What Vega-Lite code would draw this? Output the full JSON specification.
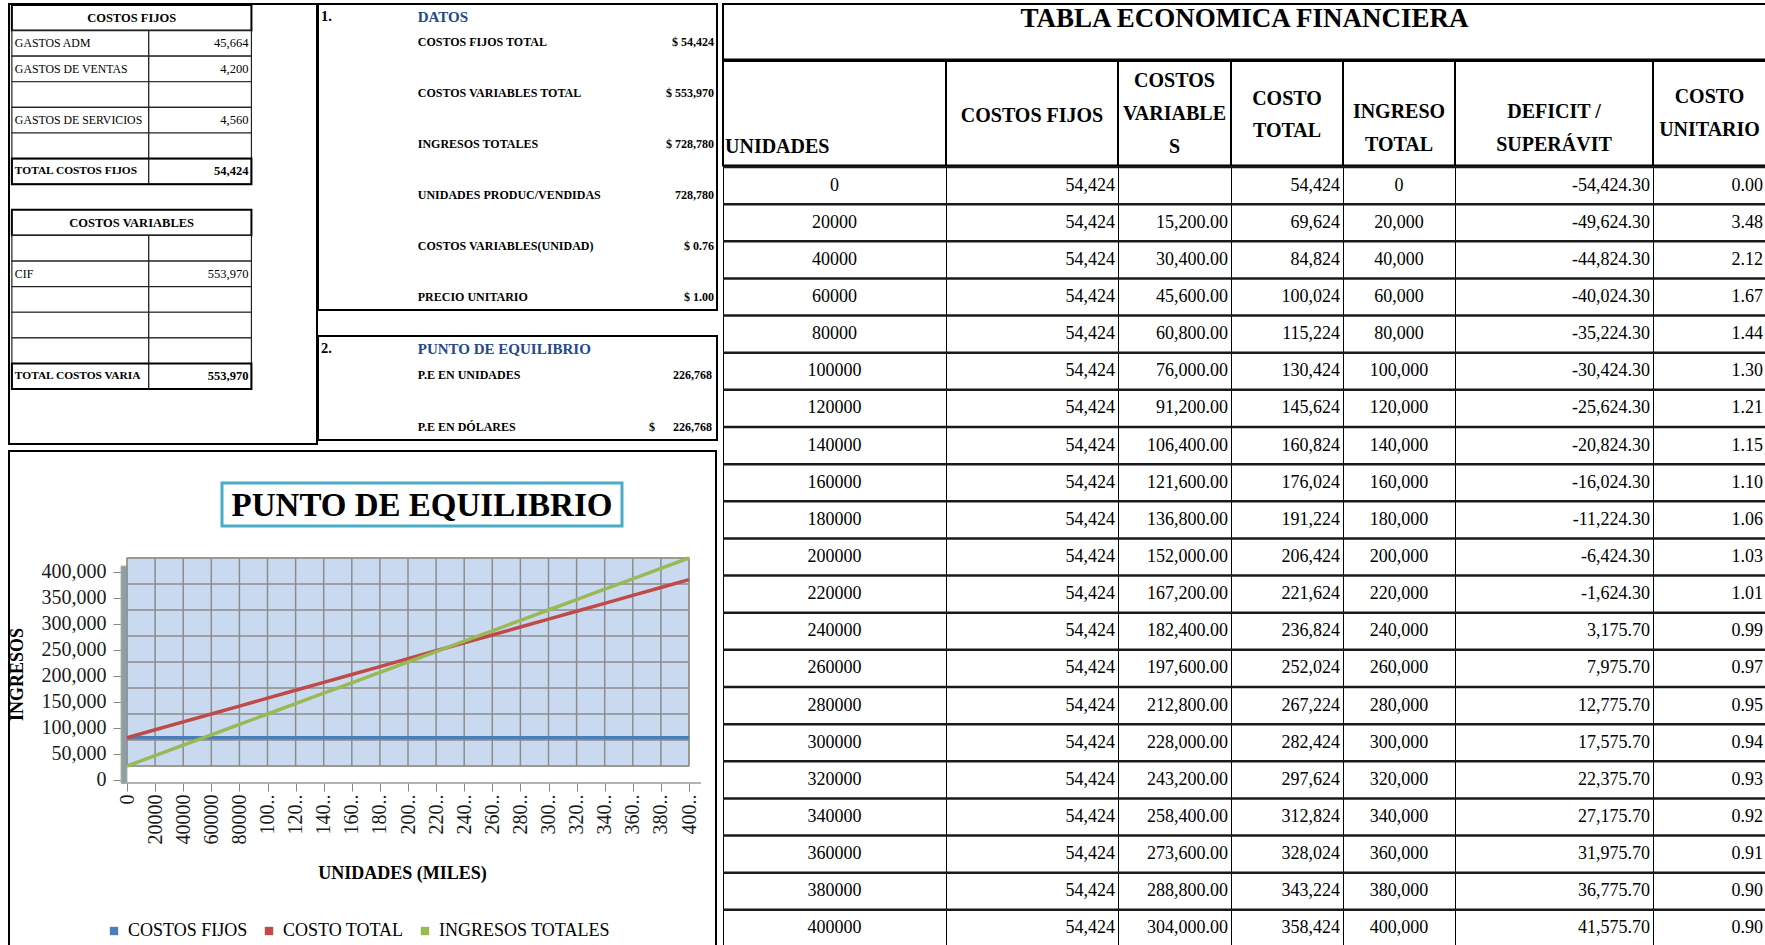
{
  "$schema": "https://vega.github.io/schema/vega-lite/v6.json",
  "background": "white",
  "padding": {"left": 7, "top": 2, "right": 0, "bottom": 0},
  "spacing": 3,
  "config": {
    "font": "Liberation Serif",
    "locale": {"number": {"decimal": ".", "thousands": ",", "grouping": [3], "currency": ["$", ""], "minus": "-"}},
    "view": {"stroke": null},
    "axisX": {"labelOverlap": false}
  },
  "datasets": {
    "tabla": [
      {"u": 0, "cf": 54424.3, "cv": null, "ct": 54424.3, "it": 0, "ds": -54424.3, "cu": 0},
      {"u": 20000, "cf": 54424.3, "cv": 15200, "ct": 69624.3, "it": 20000, "ds": -49624.3, "cu": 3.48},
      {"u": 40000, "cf": 54424.3, "cv": 30400, "ct": 84824.3, "it": 40000, "ds": -44824.3, "cu": 2.12},
      {"u": 60000, "cf": 54424.3, "cv": 45600, "ct": 100024.3, "it": 60000, "ds": -40024.3, "cu": 1.67},
      {"u": 80000, "cf": 54424.3, "cv": 60800, "ct": 115224.3, "it": 80000, "ds": -35224.3, "cu": 1.44},
      {"u": 100000, "cf": 54424.3, "cv": 76000, "ct": 130424.3, "it": 100000, "ds": -30424.3, "cu": 1.30},
      {"u": 120000, "cf": 54424.3, "cv": 91200, "ct": 145624.3, "it": 120000, "ds": -25624.3, "cu": 1.21},
      {"u": 140000, "cf": 54424.3, "cv": 106400, "ct": 160824.3, "it": 140000, "ds": -20824.3, "cu": 1.15},
      {"u": 160000, "cf": 54424.3, "cv": 121600, "ct": 176024.3, "it": 160000, "ds": -16024.3, "cu": 1.10},
      {"u": 180000, "cf": 54424.3, "cv": 136800, "ct": 191224.3, "it": 180000, "ds": -11224.3, "cu": 1.06},
      {"u": 200000, "cf": 54424.3, "cv": 152000, "ct": 206424.3, "it": 200000, "ds": -6424.3, "cu": 1.03},
      {"u": 220000, "cf": 54424.3, "cv": 167200, "ct": 221624.3, "it": 220000, "ds": -1624.3, "cu": 1.01},
      {"u": 240000, "cf": 54424.3, "cv": 182400, "ct": 236824.3, "it": 240000, "ds": 3175.7, "cu": 0.99},
      {"u": 260000, "cf": 54424.3, "cv": 197600, "ct": 252024.3, "it": 260000, "ds": 7975.7, "cu": 0.97},
      {"u": 280000, "cf": 54424.3, "cv": 212800, "ct": 267224.3, "it": 280000, "ds": 12775.7, "cu": 0.95},
      {"u": 300000, "cf": 54424.3, "cv": 228000, "ct": 282424.3, "it": 300000, "ds": 17575.7, "cu": 0.94},
      {"u": 320000, "cf": 54424.3, "cv": 243200, "ct": 297624.3, "it": 320000, "ds": 22375.7, "cu": 0.93},
      {"u": 340000, "cf": 54424.3, "cv": 258400, "ct": 312824.3, "it": 340000, "ds": 27175.7, "cu": 0.92},
      {"u": 360000, "cf": 54424.3, "cv": 273600, "ct": 328024.3, "it": 360000, "ds": 31975.7, "cu": 0.91},
      {"u": 380000, "cf": 54424.3, "cv": 288800, "ct": 343224.3, "it": 380000, "ds": 36775.7, "cu": 0.90},
      {"u": 400000, "cf": 54424.3, "cv": 304000, "ct": 358424.3, "it": 400000, "ds": 41575.7, "cu": 0.90}
    ],
    "costos": [
      {"fila": 1, "tipo": "titulo", "concepto": "COSTOS FIJOS", "valor": null},
      {"fila": 2, "tipo": "item", "concepto": "GASTOS ADM", "valor": 45664},
      {"fila": 3, "tipo": "item", "concepto": "GASTOS DE VENTAS", "valor": 4200},
      {"fila": 4, "tipo": "item", "concepto": "", "valor": null},
      {"fila": 5, "tipo": "item", "concepto": "GASTOS DE SERVICIOS", "valor": 4560},
      {"fila": 6, "tipo": "item", "concepto": "", "valor": null},
      {"fila": 7, "tipo": "total", "concepto": "TOTAL COSTOS FIJOS", "valor": 54424},
      {"fila": 9, "tipo": "titulo", "concepto": "COSTOS VARIABLES", "valor": null},
      {"fila": 10, "tipo": "item", "concepto": "", "valor": null},
      {"fila": 11, "tipo": "item", "concepto": "CIF", "valor": 553970},
      {"fila": 12, "tipo": "item", "concepto": "", "valor": null},
      {"fila": 13, "tipo": "item", "concepto": "", "valor": null},
      {"fila": 14, "tipo": "item", "concepto": "", "valor": null},
      {"fila": 15, "tipo": "total", "concepto": "TOTAL COSTOS VARIA", "valor": 553970}
    ],
    "datos": [
      {"caja": "datos", "fila": 1, "num": "1.", "concepto": "DATOS", "valor": null},
      {"caja": "datos", "fila": 2, "num": null, "concepto": "COSTOS FIJOS TOTAL", "valor": "$ 54,424"},
      {"caja": "datos", "fila": 4, "num": null, "concepto": "COSTOS VARIABLES TOTAL", "valor": "$ 553,970"},
      {"caja": "datos", "fila": 6, "num": null, "concepto": "INGRESOS TOTALES", "valor": "$ 728,780"},
      {"caja": "datos", "fila": 8, "num": null, "concepto": "UNIDADES PRODUC/VENDIDAS", "valor": "728,780"},
      {"caja": "datos", "fila": 10, "num": null, "concepto": "COSTOS VARIABLES(UNIDAD)", "valor": "$ 0.76"},
      {"caja": "datos", "fila": 12, "num": null, "concepto": "PRECIO UNITARIO", "valor": "$ 1.00"},
      {"caja": "pe", "fila": 14, "num": "2.", "concepto": "PUNTO DE EQUILIBRIO", "valor": null},
      {"caja": "pe", "fila": 15, "num": null, "concepto": "P.E EN UNIDADES", "valor": "226,768"},
      {"caja": "pe", "fila": 17, "num": null, "concepto": "P.E EN DÓLARES", "valor": "$\u00a0\u00a0\u00a0\u00a0\u00a0\u00a0226,768"}
    ],
    "marcas": [
      {"v": 0}, {"v": 50000}, {"v": 100000}, {"v": 150000}, {"v": 200000},
      {"v": 250000}, {"v": 300000}, {"v": 350000}, {"v": 400000}
    ]
  },
  "hconcat": [
    {
      "vconcat": [
        {
          "hconcat": [
            {
              "width": 308, "height": 440,
              "view": {"stroke": "#000", "strokeWidth": 2},
              "data": {"name": "costos"},
              "encoding": {
                "y": {"field": "fila", "type": "ordinal", "axis": null,
                  "scale": {"type": "band", "domain": [1,2,3,4,5,6,7,8,9,10,11,12,13,14,15,16,17], "paddingInner": 0, "paddingOuter": 0.09, "align": 0.2}}
              },
              "layer": [
                {
                  "transform": [{"filter": "datum.tipo == 'titulo'"}],
                  "mark": {"type": "rect", "fill": "white", "stroke": "#000", "strokeWidth": 2},
                  "encoding": {
                    "x": {"datum": "B1", "type": "nominal", "bandPosition": 0, "axis": null,
                      "scale": {"type": "band", "domain": ["B1","B2","B3","B4","C1","C2","C3"], "paddingInner": 0, "paddingOuter": 1.048, "align": 0.042}},
                    "x2": {"datum": "C3", "bandPosition": 1}
                  }
                },
                {
                  "transform": [{"filter": "datum.tipo != 'titulo'"}],
                  "mark": {"type": "rect", "fill": "white", "stroke": "#222", "strokeWidth": 1.2},
                  "encoding": {
                    "x": {"datum": "B1", "type": "nominal", "bandPosition": 0},
                    "x2": {"datum": "B4", "bandPosition": 1}
                  }
                },
                {
                  "transform": [{"filter": "datum.tipo != 'titulo'"}],
                  "mark": {"type": "rect", "fill": "white", "stroke": "#222", "strokeWidth": 1.2},
                  "encoding": {
                    "x": {"datum": "C1", "type": "nominal", "bandPosition": 0},
                    "x2": {"datum": "C3", "bandPosition": 1}
                  }
                },
                {
                  "transform": [{"filter": "datum.tipo == 'total'"}],
                  "mark": {"type": "rect", "fill": null, "stroke": "#000", "strokeWidth": 2},
                  "encoding": {
                    "x": {"datum": "B1", "type": "nominal", "bandPosition": 0},
                    "x2": {"datum": "C3", "bandPosition": 1}
                  }
                },
                {
                  "transform": [{"filter": "datum.tipo == 'titulo'"}],
                  "mark": {"type": "text", "align": "center", "fontSize": 12.5, "fontWeight": "bold", "color": "#000"},
                  "encoding": {
                    "x": {"datum": "B4", "type": "nominal", "bandPosition": 0.5},
                    "text": {"field": "concepto"}
                  }
                },
                {
                  "transform": [{"filter": "datum.tipo == 'item'"}],
                  "mark": {"type": "text", "align": "left", "dx": 3, "fontSize": 11.8, "color": "#000"},
                  "encoding": {
                    "x": {"datum": "B1", "type": "nominal", "bandPosition": 0},
                    "text": {"field": "concepto"}
                  }
                },
                {
                  "transform": [{"filter": "datum.tipo == 'total'"}],
                  "mark": {"type": "text", "align": "left", "dx": 3, "fontSize": 11.4, "fontWeight": "bold", "color": "#000"},
                  "encoding": {
                    "x": {"datum": "B1", "type": "nominal", "bandPosition": 0},
                    "text": {"field": "concepto"}
                  }
                },
                {
                  "transform": [{"filter": "datum.tipo == 'item' && isValid(datum.valor)"}],
                  "mark": {"type": "text", "align": "right", "dx": -3, "fontSize": 12.5, "color": "#000"},
                  "encoding": {
                    "x": {"datum": "C3", "type": "nominal", "bandPosition": 1},
                    "text": {"field": "valor", "type": "quantitative", "format": ","}
                  }
                },
                {
                  "transform": [{"filter": "datum.tipo == 'total' && isValid(datum.valor)"}],
                  "mark": {"type": "text", "align": "right", "dx": -3, "fontSize": 12.5, "fontWeight": "bold", "color": "#000"},
                  "encoding": {
                    "x": {"datum": "C3", "type": "nominal", "bandPosition": 1},
                    "text": {"field": "valor", "type": "quantitative", "format": ","}
                  }
                }
              ]
            },
            {
              "vconcat": [
                {
                  "width": 399, "height": 306,
                  "view": {"stroke": "#000", "strokeWidth": 2},
                  "data": {"name": "datos"},
                  "transform": [{"filter": "datum.caja == 'datos'"}],
                  "encoding": {
                    "y": {"field": "fila", "type": "ordinal", "axis": null,
                      "scale": {"type": "band", "domain": [1,2,3,4,5,6,7,8,9,10,11,12], "paddingInner": 0, "paddingOuter": 0}}
                  },
                  "layer": [
                    {
                      "transform": [{"filter": "isValid(datum.num)"}],
                      "mark": {"type": "text", "align": "left", "dx": 3, "fontSize": 14.5, "fontWeight": "bold", "color": "#000"},
                      "encoding": {
                        "x": {"datum": "num", "type": "nominal", "bandPosition": 0, "axis": null,
                          "scale": {"type": "band", "domain": ["num", "concepto"], "paddingInner": 0, "paddingOuter": 1.843, "align": 0}},
                        "text": {"field": "num"}
                      }
                    },
                    {
                      "transform": [{"filter": "isValid(datum.num)"}],
                      "mark": {"type": "text", "align": "left", "fontSize": 15, "fontWeight": "bold", "color": "#24488A"},
                      "encoding": {
                        "x": {"datum": "concepto", "type": "nominal", "bandPosition": 0},
                        "text": {"field": "concepto"}
                      }
                    },
                    {
                      "transform": [{"filter": "!isValid(datum.num)"}],
                      "mark": {"type": "text", "align": "left", "fontSize": 12, "fontWeight": "bold", "color": "#000"},
                      "encoding": {
                        "x": {"datum": "concepto", "type": "nominal", "bandPosition": 0},
                        "text": {"field": "concepto"}
                      }
                    },
                    {
                      "transform": [{"filter": "isValid(datum.valor)"}],
                      "mark": {"type": "text", "align": "right", "dx": -3, "fontSize": 12, "fontWeight": "bold", "color": "#000"},
                      "encoding": {
                        "x": {"value": "width"},
                        "text": {"field": "valor"}
                      }
                    }
                  ]
                },
                {
                  "width": 399, "height": 104,
                  "view": {"stroke": "#000", "strokeWidth": 2},
                  "data": {"name": "datos"},
                  "transform": [{"filter": "datum.caja == 'pe'"}],
                  "encoding": {
                    "y": {"field": "fila", "type": "ordinal", "axis": null,
                      "scale": {"type": "band", "domain": [14,15,16,17], "paddingInner": 0, "paddingOuter": 0}}
                  },
                  "layer": [
                    {
                      "transform": [{"filter": "isValid(datum.num)"}],
                      "mark": {"type": "text", "align": "left", "dx": 3, "fontSize": 14.5, "fontWeight": "bold", "color": "#000"},
                      "encoding": {
                        "x": {"datum": "num", "type": "nominal", "bandPosition": 0, "axis": null,
                          "scale": {"type": "band", "domain": ["num", "concepto"], "paddingInner": 0, "paddingOuter": 1.843, "align": 0}},
                        "text": {"field": "num"}
                      }
                    },
                    {
                      "transform": [{"filter": "isValid(datum.num)"}],
                      "mark": {"type": "text", "align": "left", "fontSize": 15, "fontWeight": "bold", "color": "#24488A"},
                      "encoding": {
                        "x": {"datum": "concepto", "type": "nominal", "bandPosition": 0},
                        "text": {"field": "concepto"}
                      }
                    },
                    {
                      "transform": [{"filter": "!isValid(datum.num)"}],
                      "mark": {"type": "text", "align": "left", "fontSize": 12, "fontWeight": "bold", "color": "#000"},
                      "encoding": {
                        "x": {"datum": "concepto", "type": "nominal", "bandPosition": 0},
                        "text": {"field": "concepto"}
                      }
                    },
                    {
                      "transform": [{"filter": "isValid(datum.valor)"}],
                      "mark": {"type": "text", "align": "right", "dx": -5, "fontSize": 12, "fontWeight": "bold", "color": "#000"},
                      "encoding": {
                        "x": {"value": "width"},
                        "text": {"field": "valor"}
                      }
                    }
                  ]
                }
              ],
              "spacing": 26,
              "bounds": "flush"
            }
          ],
          "spacing": -2
        },
        {
          "width": 707, "height": 495,
          "view": {"stroke": "#000", "strokeWidth": 2},
          "layer": [
            {
              "data": {"values": [{}]},
              "mark": {"type": "rect", "fill": "#C9DAF0", "stroke": "#A9C27A", "strokeWidth": 1.5},
              "encoding": {
                "x": {"datum": 0, "type": "quantitative",
                  "scale": {"domain": [-83986, 419217], "nice": false, "zero": false},
                  "axis": {"orient": "bottom", "offset": -163, "tickCount": 40,
                    "values": [0,20000,40000,60000,80000,100000,120000,140000,160000,180000,200000,220000,240000,260000,280000,300000,320000,340000,360000,380000,400000],
                    "labelAngle": -90, "labelFontSize": 20, "labelColor": "#1a1a1a",
                    "labelExpr": "datum.value >= 100000 ? slice(toString(datum.value), 0, 3) + '..' : toString(datum.value)",
                    "labelOverlap": false, "labelFlush": false, "labelPadding": 3,
                    "domain": false, "grid": false, "tickSize": 8, "tickColor": "#888",
                    "title": "UNIDADES (MILES)", "titleFontSize": 18, "titleFontWeight": "bold", "titleColor": "#000",
                    "titleX": 393, "titleY": 90, "titleBaseline": "middle", "titleAlign": "center"}},
                "x2": {"datum": 400000},
                "y": {"datum": 0, "type": "quantitative",
                  "scale": {"domain": [-346154, 605769], "nice": false, "zero": false},
                  "axis": {"orient": "left", "offset": -112, "tickCount": 20,
                    "values": [0,50000,100000,150000,200000,250000,300000,350000,400000],
                    "format": ",.0f", "labelFontSize": 20, "labelColor": "#1a1a1a", "labelPadding": 7,
                    "domain": false, "grid": false, "tickSize": 8, "tickColor": "#888", "tickOffset": 14,
                    "title": "INGRESOS", "titleFontSize": 18, "titleFontWeight": "bold", "titleColor": "#000",
                    "titleX": -104, "titleY": 223, "titleBaseline": "middle", "titleAlign": "center"}},
                "y2": {"datum": 400000}
              }
            },
            {
              "data": {"values": [{}]},
              "mark": {"type": "rect", "fill": "#8E9BB0", "stroke": "#A9C27A", "strokeWidth": 1},
              "encoding": {
                "x": {"datum": -4270, "type": "quantitative"},
                "x2": {"datum": 0},
                "y": {"datum": -32692, "type": "quantitative"},
                "y2": {"datum": 384616}
              }
            },
            {
              "data": {"values": [{}]},
              "mark": {"type": "rule", "color": "#9A9A9A", "strokeWidth": 1.5},
              "encoding": {
                "x": {"datum": -4270, "type": "quantitative"},
                "x2": {"datum": 408539},
                "y": {"datum": -32692, "type": "quantitative"}
              }
            },
            {
              "data": {"name": "tabla"},
              "mark": {"type": "rule", "color": "#8C8C8C", "strokeWidth": 1.5},
              "encoding": {
                "x": {"field": "u", "type": "quantitative"},
                "y": {"datum": 0, "type": "quantitative"},
                "y2": {"datum": 400000}
              }
            },
            {
              "data": {"name": "marcas"},
              "mark": {"type": "rule", "color": "#8C8C8C", "strokeWidth": 1.5},
              "encoding": {
                "y": {"field": "v", "type": "quantitative"},
                "x": {"datum": 0, "type": "quantitative"},
                "x2": {"datum": 400000}
              }
            },
            {
              "data": {"name": "tabla"},
              "transform": [{"fold": ["cf", "ct", "it"], "as": ["serie", "valor"]}],
              "mark": {"type": "line", "strokeWidth": 3.5},
              "encoding": {
                "x": {"field": "u", "type": "quantitative"},
                "y": {"field": "valor", "type": "quantitative"},
                "color": {"field": "serie", "type": "nominal",
                  "scale": {"domain": ["cf", "ct", "it"], "range": ["#4A7EBB", "#BE4B48", "#98B954"]},
                  "legend": {"orient": "none", "legendX": 96, "legendY": 918, "direction": "horizontal",
                    "title": null, "symbolType": "square", "symbolSize": 70, "symbolStrokeWidth": 0,
                    "labelFontSize": 18, "labelColor": "#000", "labelLimit": 400, "columnPadding": 12, "labelOffset": 5,
                    "labelExpr": "datum.label == 'cf' ? 'COSTOS FIJOS' : datum.label == 'ct' ? 'COSTO TOTAL' : 'INGRESOS TOTALES'",
                    "encode": {"symbols": {"update": {"fill": {"scale": "color", "field": "value"}, "strokeWidth": {"value": 0}}}}}
                }
              }
            },
            {
              "data": {"values": [{}]},
              "mark": {"type": "rect", "fill": "white", "stroke": "#4BACC6", "strokeWidth": 3},
              "encoding": {
                "x": {"datum": 67615, "type": "quantitative"},
                "x2": {"datum": 352311},
                "y": {"datum": 461538, "type": "quantitative"},
                "y2": {"datum": 544231}
              }
            },
            {
              "data": {"values": [{"t": "PUNTO DE EQUILIBRIO"}]},
              "mark": {"type": "text", "fontSize": 33, "fontWeight": "bold", "color": "#000", "baseline": "middle", "dy": 2},
              "encoding": {
                "x": {"datum": 209963, "type": "quantitative"},
                "y": {"datum": 502885, "type": "quantitative"},
                "text": {"field": "t"}
              }
            }
          ]
        }
      ],
      "spacing": 5
    },
    {
      "vconcat": [
        {
          "width": 1043, "height": 55.5,
          "view": {"stroke": "#000", "strokeWidth": 2},
          "data": {"values": [{"t": "TABLA ECONOMICA FINANCIERA"}]},
          "mark": {"type": "text", "fontSize": 27, "fontWeight": "bold", "color": "#000", "dy": -13},
          "encoding": {"text": {"field": "t"}}
        },
        {
          "hconcat": [
            {
              "width": 223, "height": 104.5,
              "view": {"stroke": "#000", "strokeWidth": 2},
              "data": {"values": [{"t": "UNIDADES"}]},
              "mark": {"type": "text", "align": "left", "dx": 2, "dy": 34, "fontSize": 20, "fontWeight": "bold", "color": "#000"},
              "encoding": {
                "x": {"datum": "UNIDADES", "type": "nominal", "bandPosition": 0, "axis": null,
                  "scale": {"type": "band", "paddingInner": 0, "paddingOuter": 0}},
                "text": {"field": "t"}
              }
            },
            {
              "width": 172, "height": 104.5,
              "view": {"stroke": "#000", "strokeWidth": 2},
              "data": {"values": [{"t": "COSTOS FIJOS"}]},
              "mark": {"type": "text", "dy": 3, "fontSize": 20, "fontWeight": "bold", "color": "#000"},
              "encoding": {"text": {"field": "t"}}
            },
            {
              "width": 113, "height": 104.5,
              "view": {"stroke": "#000", "strokeWidth": 2},
              "data": {"values": [{"t": "COSTOS|VARIABLE|S"}]},
              "mark": {"type": "text", "dy": -32, "fontSize": 20, "fontWeight": "bold", "color": "#000", "lineBreak": "|", "lineHeight": 33},
              "encoding": {"text": {"field": "t"}}
            },
            {
              "width": 112, "height": 104.5,
              "view": {"stroke": "#000", "strokeWidth": 2},
              "data": {"values": [{"t": "COSTO|TOTAL"}]},
              "mark": {"type": "text", "dy": -14, "fontSize": 20, "fontWeight": "bold", "color": "#000", "lineBreak": "|", "lineHeight": 32},
              "encoding": {"text": {"field": "t"}}
            },
            {
              "width": 112, "height": 104.5,
              "view": {"stroke": "#000", "strokeWidth": 2},
              "data": {"values": [{"t": "INGRESO|TOTAL"}]},
              "mark": {"type": "text", "dy": -1, "fontSize": 20, "fontWeight": "bold", "color": "#000", "lineBreak": "|", "lineHeight": 33},
              "encoding": {"text": {"field": "t"}}
            },
            {
              "width": 198, "height": 104.5,
              "view": {"stroke": "#000", "strokeWidth": 2},
              "data": {"values": [{"t": "DEFICIT  /|SUPERÁVIT"}]},
              "mark": {"type": "text", "dy": -1, "fontSize": 20, "fontWeight": "bold", "color": "#000", "lineBreak": "|", "lineHeight": 33},
              "encoding": {"text": {"field": "t"}}
            },
            {
              "width": 113, "height": 104.5,
              "view": {"stroke": "#000", "strokeWidth": 2},
              "data": {"values": [{"t": "COSTO|UNITARIO"}]},
              "mark": {"type": "text", "dy": -16, "fontSize": 20, "fontWeight": "bold", "color": "#000", "lineBreak": "|", "lineHeight": 33},
              "encoding": {"text": {"field": "t"}}
            }
          ],
          "spacing": 0,
          "bounds": "flush"
        },
        {
          "hconcat": [
            {
              "width": 223, "height": 780,
              "view": {"stroke": "#000", "strokeWidth": 1},
              "data": {"name": "tabla"},
              "encoding": {"y": {"field": "u", "type": "ordinal", "axis": null, "scale": {"type": "band", "paddingInner": 0, "paddingOuter": 0}}},
              "layer": [
                {"mark": {"type": "rule", "color": "#1a1a1a", "strokeWidth": 2.5}, "encoding": {"y": {"field": "u", "type": "ordinal", "bandPosition": 0}}},
                {"mark": {"type": "text", "fontSize": 18, "color": "#000"}, "encoding": {"text": {"field": "u", "type": "quantitative", "format": "d"}}}
              ]
            },
            {
              "width": 172, "height": 780,
              "view": {"stroke": "#000", "strokeWidth": 1},
              "data": {"name": "tabla"},
              "encoding": {"y": {"field": "u", "type": "ordinal", "axis": null, "scale": {"type": "band", "paddingInner": 0, "paddingOuter": 0}}},
              "layer": [
                {"mark": {"type": "rule", "color": "#1a1a1a", "strokeWidth": 2.5}, "encoding": {"y": {"field": "u", "type": "ordinal", "bandPosition": 0}}},
                {"mark": {"type": "text", "align": "right", "dx": -3, "fontSize": 18, "color": "#000"}, "encoding": {"x": {"value": "width"}, "text": {"field": "cf", "type": "quantitative", "format": ",.0f"}}}
              ]
            },
            {
              "width": 113, "height": 780,
              "view": {"stroke": "#000", "strokeWidth": 1},
              "data": {"name": "tabla"},
              "encoding": {"y": {"field": "u", "type": "ordinal", "axis": null, "scale": {"type": "band", "paddingInner": 0, "paddingOuter": 0}}},
              "layer": [
                {"mark": {"type": "rule", "color": "#1a1a1a", "strokeWidth": 2.5}, "encoding": {"y": {"field": "u", "type": "ordinal", "bandPosition": 0}}},
                {"transform": [{"filter": "isValid(datum.cv)"}], "mark": {"type": "text", "align": "right", "dx": -3, "fontSize": 18, "color": "#000"}, "encoding": {"x": {"value": "width"}, "text": {"field": "cv", "type": "quantitative", "format": ",.2f"}}}
              ]
            },
            {
              "width": 112, "height": 780,
              "view": {"stroke": "#000", "strokeWidth": 1},
              "data": {"name": "tabla"},
              "encoding": {"y": {"field": "u", "type": "ordinal", "axis": null, "scale": {"type": "band", "paddingInner": 0, "paddingOuter": 0}}},
              "layer": [
                {"mark": {"type": "rule", "color": "#1a1a1a", "strokeWidth": 2.5}, "encoding": {"y": {"field": "u", "type": "ordinal", "bandPosition": 0}}},
                {"mark": {"type": "text", "align": "right", "dx": -3, "fontSize": 18, "color": "#000"}, "encoding": {"x": {"value": "width"}, "text": {"field": "ct", "type": "quantitative", "format": ",.0f"}}}
              ]
            },
            {
              "width": 112, "height": 780,
              "view": {"stroke": "#000", "strokeWidth": 1},
              "data": {"name": "tabla"},
              "encoding": {"y": {"field": "u", "type": "ordinal", "axis": null, "scale": {"type": "band", "paddingInner": 0, "paddingOuter": 0}}},
              "layer": [
                {"mark": {"type": "rule", "color": "#1a1a1a", "strokeWidth": 2.5}, "encoding": {"y": {"field": "u", "type": "ordinal", "bandPosition": 0}}},
                {"mark": {"type": "text", "fontSize": 18, "color": "#000"}, "encoding": {"text": {"field": "it", "type": "quantitative", "format": ",.0f"}}}
              ]
            },
            {
              "width": 198, "height": 780,
              "view": {"stroke": "#000", "strokeWidth": 1},
              "data": {"name": "tabla"},
              "encoding": {"y": {"field": "u", "type": "ordinal", "axis": null, "scale": {"type": "band", "paddingInner": 0, "paddingOuter": 0}}},
              "layer": [
                {"mark": {"type": "rule", "color": "#1a1a1a", "strokeWidth": 2.5}, "encoding": {"y": {"field": "u", "type": "ordinal", "bandPosition": 0}}},
                {"mark": {"type": "text", "align": "right", "dx": -3, "fontSize": 18, "color": "#000"}, "encoding": {"x": {"value": "width"}, "text": {"field": "ds", "type": "quantitative", "format": ",.2f"}}}
              ]
            },
            {
              "width": 113, "height": 780,
              "view": {"stroke": "#000", "strokeWidth": 1},
              "data": {"name": "tabla"},
              "encoding": {"y": {"field": "u", "type": "ordinal", "axis": null, "scale": {"type": "band", "paddingInner": 0, "paddingOuter": 0}}},
              "layer": [
                {"mark": {"type": "rule", "color": "#1a1a1a", "strokeWidth": 2.5}, "encoding": {"y": {"field": "u", "type": "ordinal", "bandPosition": 0}}},
                {"mark": {"type": "text", "align": "right", "dx": -3, "fontSize": 18, "color": "#000"}, "encoding": {"x": {"value": "width"}, "text": {"field": "cu", "type": "quantitative", "format": ".2f"}}}
              ]
            }
          ],
          "spacing": 0,
          "bounds": "flush"
        }
      ],
      "spacing": -2
    }
  ]
}
